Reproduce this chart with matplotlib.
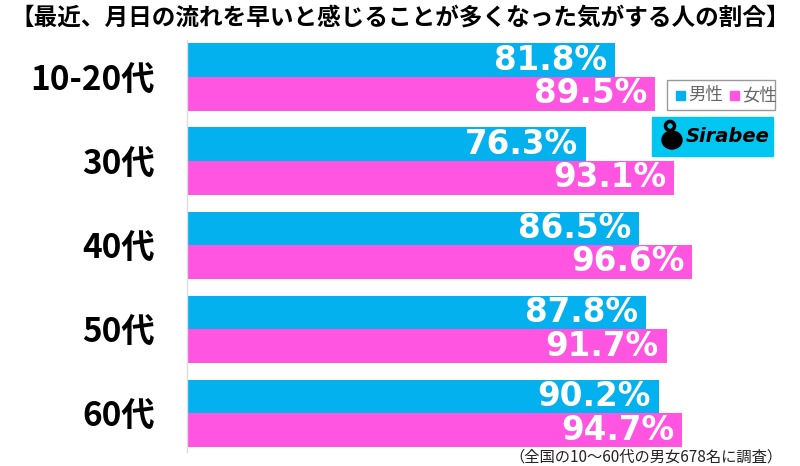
import matplotlib.pyplot as plt
from matplotlib.patches import Rectangle, Ellipse

plt.rcParams['font.family'] = ['Noto Sans CJK JP', 'DejaVu Sans']

# data
ages = ['10-20代', '30代', '40代', '50代', '60代']
male = [81.8, 76.3, 86.5, 87.8, 90.2]
female = [89.5, 93.1, 96.6, 91.7, 94.7]

title = '【最近、月日の流れを早いと感じることが多くなった気がする人の割合】'
note = '（全国の10～60代の男女678名に調査）'

BLUE = '#03B1EE'
PINK = '#FF55E1'
W, H = 800, 466

fig = plt.figure(figsize=(W / 100, H / 100), dpi=100)
ax = fig.add_axes([187 / W, (H - 452) / H, (710 - 187) / W, 412 / H])

bar_h = 0.4
for i, (m, f) in enumerate(zip(male, female)):
    ax.barh(i - bar_h / 2, m, height=bar_h, color=BLUE, linewidth=0)
    ax.barh(i + bar_h / 2, f, height=bar_h, color=PINK, linewidth=0)
    ax.text(m - 1.5, i - bar_h / 2, f'{m:.1f}%', ha='right', va='center',
            color='white', fontsize=23.5, fontweight='bold', family='DejaVu Sans')
    ax.text(f - 1.5, i + bar_h / 2, f'{f:.1f}%', ha='right', va='center',
            color='white', fontsize=23.5, fontweight='bold', family='DejaVu Sans')

ax.set_xlim(0, 100)
ax.set_ylim(4.46, -0.44)
ax.set_yticks(range(len(ages)))
ax.set_yticklabels(ages, fontsize=24, fontweight='bold')
ax.tick_params(axis='y', length=0, pad=23)
ax.set_xticks([])
for s in ['top', 'right', 'bottom']:
    ax.spines[s].set_visible(False)
ax.spines['left'].set_color('#dddddd')
ax.spines['left'].set_linewidth(1)

fig.text(0.5, 1 - 18 / H, title, ha='center', va='center',
         fontsize=17, fontweight='bold')
fig.text(782 / W, 1 - 457 / H, note, ha='right', va='center',
         fontsize=11, color='#222222')

# legend box
fig.patches.append(Rectangle((667 / W, 1 - 110 / H), 108 / W, 30 / H,
                             transform=fig.transFigure, facecolor='white',
                             edgecolor='#999999', linewidth=1))
fig.patches.append(Rectangle((676 / W, 1 - 100 / H), 9 / W, 9 / H,
                             transform=fig.transFigure, color=BLUE))
fig.text(688 / W, 1 - 95 / H, '男性', ha='left', va='center', fontsize=12.5, color='#666666')
fig.patches.append(Rectangle((730 / W, 1 - 100 / H), 9 / W, 9 / H,
                             transform=fig.transFigure, color=PINK))
fig.text(742 / W, 1 - 95 / H, '女性', ha='left', va='center', fontsize=12.5, color='#666666')

# logo
fig.patches.append(Rectangle((652 / W, 1 - 156 / H), 121 / W, 39 / H,
                             transform=fig.transFigure, color='#00C6F2'))
fig.patches.append(Ellipse((672 / W, 1 - 140 / H), 20 / W, 18 / H,
                           transform=fig.transFigure, color='black'))
fig.patches.append(Ellipse((670 / W, 1 - 126 / H), 9 / W, 9 / H,
                           transform=fig.transFigure, facecolor='none',
                           edgecolor='black', linewidth=2.5))
fig.text(686 / W, 1 - 137 / H, 'Sirabee', ha='left', va='center', fontsize=14,
         fontweight='bold', style='italic', family='DejaVu Sans', color='black')

fig.savefig('out.png', dpi=100)
